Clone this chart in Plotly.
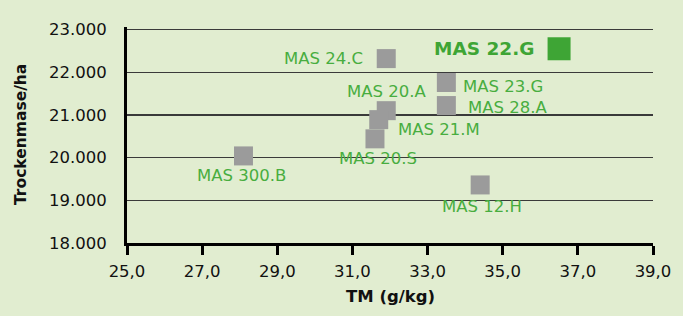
import plotly.graph_objects as go

# Data
varieties = ["MAS 24.C", "MAS 23.G", "MAS 28.A", "MAS 20.A", "MAS 21.M",
             "MAS 20.S", "MAS 300.B", "MAS 12.H"]
tm_values = [31.9, 33.5, 33.5, 31.9, 31.7, 31.6, 28.1, 34.4]
dm_values = [22320, 21760, 21220, 21100, 20890, 20440, 20040, 19360]

highlight_variety = ["MAS 22.G"]
highlight_tm = [36.5]
highlight_dm = [22550]

x_ticks = [25, 27, 29, 31, 33, 35, 37, 39]
y_ticks = [18000, 19000, 20000, 21000, 22000, 23000]

# label placement (style): anchor, x-shift px, y-shift px
label_style = {
    "MAS 24.C": ("right", -21, 0),
    "MAS 23.G": ("left", 15, -4),
    "MAS 28.A": ("left", 20, -2),
    "MAS 20.A": ("center", 0, 19),
    "MAS 21.M": ("left", 17, -10),
    "MAS 20.S": ("center", 3, -20),
    "MAS 300.B": ("center", -2, -20),
    "MAS 12.H": ("center", 2, -22),
}

BG = "#e1edd0"
LABEL_GREEN = "#48ad3f"
MARK_GREEN = "#3ea535"
GRAY = "#9b9b9b"
FONT = "DejaVu Sans"

fig = go.Figure()
fig.add_trace(go.Scatter(
    x=tm_values, y=dm_values, mode="markers",
    marker=dict(symbol="square", size=19, color=GRAY, line=dict(width=0)),
    hoverinfo="skip", showlegend=False, cliponaxis=False,
))
fig.add_trace(go.Scatter(
    x=highlight_tm, y=highlight_dm, mode="markers",
    marker=dict(symbol="square", size=23, color=MARK_GREEN, line=dict(width=0)),
    hoverinfo="skip", showlegend=False, cliponaxis=False,
))

annotations = []
for name, xv, yv in zip(varieties, tm_values, dm_values):
    anchor, xs, ys = label_style[name]
    annotations.append(dict(
        x=xv, y=yv, xref="x", yref="y", text=name, showarrow=False,
        xanchor=anchor, yanchor="middle", xshift=xs, yshift=ys,
        font=dict(family=FONT, size=16.5, color=LABEL_GREEN),
    ))
for name, xv, yv in zip(highlight_variety, highlight_tm, highlight_dm):
    annotations.append(dict(
        x=xv, y=yv, xref="x", yref="y", text="<b>" + name + "</b>", showarrow=False,
        xanchor="right", yanchor="middle", xshift=-23, yshift=0,
        font=dict(family=FONT, size=18.5, color=MARK_GREEN),
    ))

# axis titles
annotations.append(dict(
    x=0.5, y=0, xref="paper", yref="paper", text="<b>TM (g/kg)</b>",
    showarrow=False, xanchor="center", yanchor="top", yshift=-42,
    font=dict(family=FONT, size=16.5, color="#111111"),
))
annotations.append(dict(
    x=0, y=0.5, xref="paper", yref="paper", text="<b>Trockenmase/ha</b>",
    showarrow=False, xanchor="center", yanchor="middle", xshift=-106,
    textangle=-90, font=dict(family=FONT, size=15.5, color="#111111"),
))

fig.update_layout(
    width=683, height=316,
    margin=dict(l=127, r=27, t=27, b=73),
    paper_bgcolor=BG, plot_bgcolor=BG,
    separators=",.",
    showlegend=False,
    annotations=annotations,
    font=dict(family=FONT, color="#111111"),
)
fig.update_xaxes(
    range=[25, 39], tickvals=x_ticks, tickformat=".1f",
    showgrid=False, zeroline=False,
    showline=True, linewidth=3, linecolor="#000000",
    ticks="outside", ticklen=9, tickwidth=3, tickcolor="#000000",
    tickfont=dict(family=FONT, size=16.5, color="#111111"),
    ticklabelstandoff=2,
)
fig.update_yaxes(
    range=[18000, 23060], tickvals=y_ticks, tickformat=",.0f",
    showgrid=True, gridcolor="#3a3a3a", gridwidth=1.5, zeroline=False,
    showline=True, linewidth=3, linecolor="#000000",
    ticks="", tickfont=dict(family=FONT, size=16.5, color="#111111"),
    ticklabelstandoff=14,
)

page_css = (
    "document.body.style.margin='0';"
    "document.body.style.background='" + BG + "';"
    "document.body.style.overflow='hidden';"
)
fig.write_html("out.html", post_script=page_css,
               config={"displayModeBar": False, "staticPlot": True})
